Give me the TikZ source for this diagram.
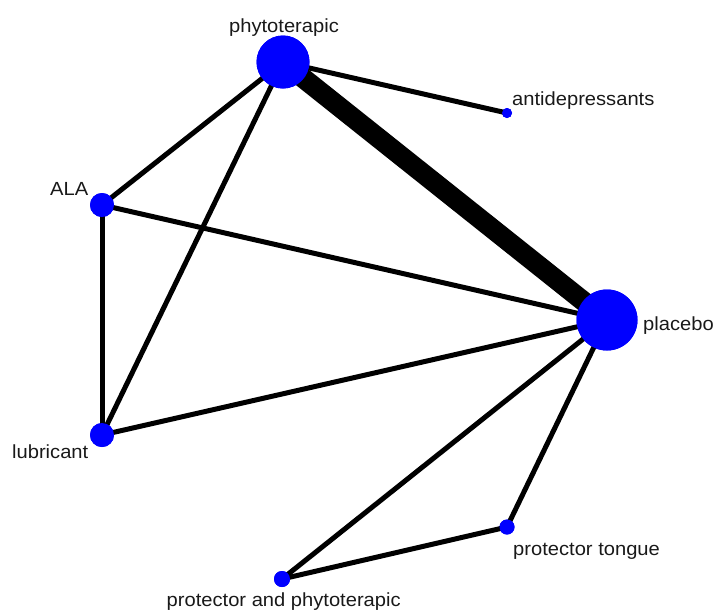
\documentclass[tikz,border=0pt]{standalone}
\usepackage{fontspec}
\setmainfont{Liberation Sans}[FakeStretch=1.06]
\begin{document}
\begin{tikzpicture}[x=1pt,y=-1pt,
  trt/.style={circle,fill=blue,draw=none,inner sep=0pt,minimum size=#1},
  link/.style={line width=5pt,draw=black},
  biglink/.style={line width=20pt,draw=black},
  lbl/.style={font=\fontsize{19}{22}\selectfont,text=black!90,inner sep=0pt}]
  \useasboundingbox (0,0) rectangle (715,614);
  % treatments (disc size grows with the number of participants)
  \node[trt=53pt] (phyto) at (283,62) {};
  \node[trt=10pt] (anti) at (507,113) {};
  \node[trt=24pt] (ala) at (102,205) {};
  \node[trt=61pt] (plac) at (607,320) {};
  \node[trt=24pt] (lub) at (102,435) {};
  \node[trt=15pt] (tong) at (507,527) {};
  \node[trt=16pt] (pap) at (282,579) {};
  % comparisons (line width grows with the number of studies)
  \draw[biglink] (phyto.center) -- (plac.center);
  \draw[link] (phyto.center) -- (anti.center);
  \draw[link] (phyto.center) -- (ala.center);
  \draw[link] (phyto.center) -- (lub.center);
  \draw[link] (ala.center) -- (lub.center);
  \draw[link] (ala.center) -- (plac.center);
  \draw[link] (lub.center) -- (plac.center);
  \draw[link] (plac.center) -- (tong.center);
  \draw[link] (plac.center) -- (pap.center);
  \draw[link] (tong.center) -- (pap.center);
  % discs drawn again above the lines
  \foreach \n/\d in {phyto/53,anti/10,ala/24,plac/61,lub/24,tong/15,pap/16}
    \fill[blue] (\n.center) circle ({\d/2});
  % labels
  \node[lbl,anchor=base] (lphyto) at (284,32) {phytoterapic};
  \node[lbl,anchor=base west] (lanti) at (512,105) {antidepressants};
  \node[lbl,anchor=base east] (lala) at (88.5,195) {ALA};
  \node[lbl,anchor=base west] (lplac) at (643,330) {placebo};
  \node[lbl,anchor=base east] (llub) at (88.5,458) {lubricant};
  \node[lbl,anchor=base west] (ltong) at (513,555) {protector tongue};
  \node[lbl,anchor=base west] (lpap) at (166.5,606.5) {protector and phytoterapic};
\end{tikzpicture}
\end{document}
